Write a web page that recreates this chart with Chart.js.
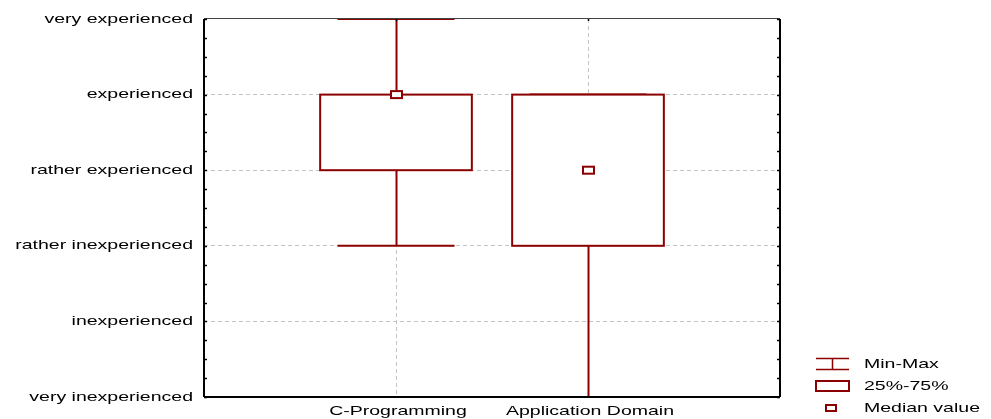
<!DOCTYPE html>
<html>
<head>
<meta charset="utf-8">
<script src="https://cdn.jsdelivr.net/npm/chart.js@4"></script>
<style>
  html, body { margin: 0; padding: 0; background: #fff; }
  canvas { display: block; }
</style>
</head>
<body>
<canvas id="c" width="991" height="419"></canvas>
<script>
// ---- data ----
const categories = ['C-Programming', 'Application Domain'];
const categoryPositions = [1, 2];
const minValues = [2, 0];
const q1Values = [3, 2];
const medianValues = [4, 3];
const q3Values = [4, 4];
const maxValues = [5, 4];
const yTickLabels = ['very inexperienced', 'inexperienced', 'rather inexperienced',
                     'rather experienced', 'experienced', 'very experienced'];
const legendLabels = ['Min-Max', '25%-75%', 'Median value'];

// ---- style ----
const RED = '#8b0000';
const GRID = '#c4c4c4';
const FONT = '13px "Liberation Sans", Arial, sans-serif';
const STRETCH = 1.5;
const BOX_HALF = 0.395;
const CAP_HALF = 0.305;

function stretchedText(ctx, text, x, y, align) {
  ctx.save();
  ctx.translate(x, y);
  ctx.scale(STRETCH, 1);
  ctx.textAlign = align;
  ctx.textBaseline = 'middle';
  ctx.fillText(text, 0, 0);
  ctx.restore();
}

const boxPlugin = {
  id: 'boxPlugin',
  afterDatasetsDraw(chart) {
    const ctx = chart.ctx;
    const xs = chart.scales.x, ys = chart.scales.y;
    const a = chart.chartArea;
    ctx.save();
    ctx.lineCap = 'butt';

    // boxes & whiskers
    categoryPositions.forEach((pos, i) => {
      const xc = Math.round(xs.getPixelForValue(pos)) + 0.5;
      const xl = xs.getPixelForValue(pos - BOX_HALF);
      const xr = xs.getPixelForValue(pos + BOX_HALF);
      const cl = xs.getPixelForValue(pos - CAP_HALF);
      const cr = xs.getPixelForValue(pos + CAP_HALF);
      const yMin = ys.getPixelForValue(minValues[i]);
      const yMax = ys.getPixelForValue(maxValues[i]);
      const yQ1 = ys.getPixelForValue(q1Values[i]);
      const yQ3 = ys.getPixelForValue(q3Values[i]);
      const yMed = ys.getPixelForValue(medianValues[i]);
      ctx.strokeStyle = RED;
      ctx.lineWidth = 2;
      // whiskers
      ctx.beginPath();
      ctx.moveTo(xc, yMin); ctx.lineTo(xc, yMax);
      ctx.moveTo(cl, yMin); ctx.lineTo(cr, yMin);
      ctx.moveTo(cl, yMax); ctx.lineTo(cr, yMax);
      ctx.stroke();
      // box
      ctx.fillStyle = '#fff';
      ctx.fillRect(xl, yQ3, xr - xl, yQ1 - yQ3);
      ctx.strokeRect(xl, yQ3, xr - xl, yQ1 - yQ3);
      // median
      ctx.fillRect(xc - 5.5, yMed - 3.5, 11, 7);
      ctx.strokeRect(xc - 5.5, yMed - 3.5, 11, 7);
    });

    // frame
    ctx.strokeStyle = '#000';
    ctx.lineWidth = 2;
    ctx.beginPath();
    ctx.moveTo(a.left, a.bottom); ctx.lineTo(a.right, a.bottom);
    ctx.moveTo(a.left, a.top); ctx.lineTo(a.left, a.bottom);
    ctx.moveTo(a.right, a.top); ctx.lineTo(a.right, a.bottom);
    ctx.stroke();
    ctx.strokeStyle = '#444';
    ctx.lineWidth = 1.2;
    ctx.beginPath();
    ctx.moveTo(a.left, a.top - 0.5); ctx.lineTo(a.right, a.top - 0.5);
    ctx.stroke();

    // minor ticks on left & right axes
    ctx.strokeStyle = '#000';
    ctx.lineWidth = 1.5;
    ctx.beginPath();
    for (let v = 0; v <= 5.0001; v += 0.25) {
      const y = Math.round(ys.getPixelForValue(v)) + 0.5;
      ctx.moveTo(a.left, y); ctx.lineTo(a.left + 3, y);
      ctx.moveTo(a.right, y); ctx.lineTo(a.right - 3, y);
    }
    categoryPositions.forEach(pos => {
      const x = Math.round(xs.getPixelForValue(pos)) + 0.5;
      ctx.moveTo(x, a.top); ctx.lineTo(x, a.top + 2);
    });
    ctx.stroke();

    // tick labels
    ctx.fillStyle = '#000';
    ctx.font = FONT;
    yTickLabels.forEach((lab, v) => {
      stretchedText(ctx, lab, a.left - 11, ys.getPixelForValue(v), 'right');
    });
    categories.forEach((lab, i) => {
      stretchedText(ctx, lab, xs.getPixelForValue(categoryPositions[i]) + 2, a.bottom + 14, 'center');
    });

    // legend
    const lx0 = 816, lx1 = 849, tx = 864;
    ctx.strokeStyle = RED;
    ctx.lineWidth = 1.5;
    ctx.beginPath();
    ctx.moveTo(lx0, 358.5); ctx.lineTo(lx1, 358.5);
    ctx.moveTo(lx0, 369.5); ctx.lineTo(lx1, 369.5);
    ctx.moveTo(832.5, 358.5); ctx.lineTo(832.5, 369.5);
    ctx.stroke();
    ctx.lineWidth = 2;
    ctx.strokeRect(lx0, 381, lx1 - lx0, 10);
    ctx.strokeRect(826, 405, 10, 6);
    ctx.fillStyle = '#000';
    stretchedText(ctx, legendLabels[0], tx, 364, 'left');
    stretchedText(ctx, legendLabels[1], tx, 386, 'left');
    stretchedText(ctx, legendLabels[2], tx, 408, 'left');
    ctx.restore();
  }
};

new Chart(document.getElementById('c'), {
  type: 'scatter',
  data: { datasets: [] },
  options: {
    responsive: false,
    animation: false,
    devicePixelRatio: 1,
    layout: { padding: { left: 0, top: 19, right: 211, bottom: 0 } },
    plugins: { legend: { display: false }, tooltip: { enabled: false } },
    scales: {
      x: {
        type: 'linear', min: 0, max: 3,
        ticks: { display: false, stepSize: 1 },
        grid: {
          drawTicks: false,
          color: c => (c.tick && c.tick.value > 0 && c.tick.value < 3) ? GRID : 'rgba(0,0,0,0)',
          lineWidth: 1
        },
        border: { display: false, dash: [4, 3] },
        afterFit: s => { s.height = 22; }
      },
      y: {
        type: 'linear', min: 0, max: 5,
        ticks: { display: false, stepSize: 1 },
        grid: {
          drawTicks: false,
          color: c => (c.tick && c.tick.value > 0 && c.tick.value < 5) ? GRID : 'rgba(0,0,0,0)',
          lineWidth: 1
        },
        border: { display: false, dash: [4, 3] },
        afterFit: s => { s.width = 204; }
      }
    }
  },
  plugins: [boxPlugin]
});
</script>
</body>
</html>
